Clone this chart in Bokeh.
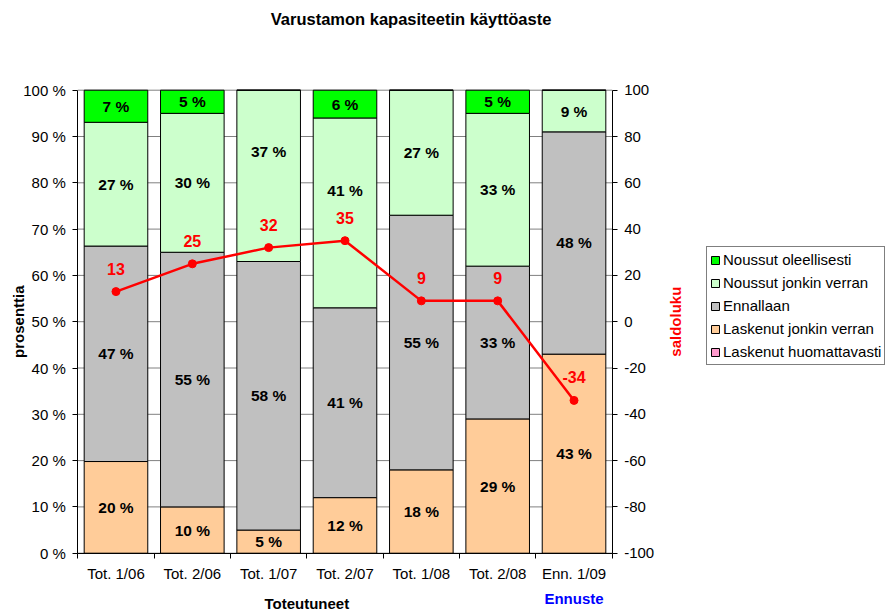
import math
from bokeh.plotting import figure
from bokeh.models import (ColumnDataSource, Range1d, LinearAxis, FixedTicker, LabelSet,
                          Label, Legend, LegendItem)
from bokeh.core.properties import value
from bokeh.embed import file_html
from bokeh.resources import INLINE

categories = ["Tot. 1/06", "Tot. 2/06", "Tot. 1/07", "Tot. 2/07", "Tot. 1/08", "Tot. 2/08", "Enn. 1/09"]
laskenut_huomattavasti = [0, 0, 0, 0, 0, 0, 0]
laskenut_jonkin_verran = [20, 10, 5, 12, 18, 29, 43]
ennallaan = [47, 55, 58, 41, 55, 33, 48]
noussut_jonkin_verran = [27, 30, 37, 41, 27, 33, 9]
noussut_oleellisesti = [7, 5, 0, 6, 0, 5, 0]
saldoluku = [13, 25, 32, 35, 9, 9, -34]

series_names = ["Laskenut huomattavasti", "Laskenut jonkin verran", "Ennallaan",
                "Noussut jonkin verran", "Noussut oleellisesti"]
series_vals = [laskenut_huomattavasti, laskenut_jonkin_verran, ennallaan,
               noussut_jonkin_verran, noussut_oleellisesti]
series_colors = ["#FF99CC", "#FFCC99", "#C0C0C0", "#CCFFCC", "#00FF00"]

left_ticks = list(range(0, 101, 10))
right_ticks = list(range(-100, 101, 20))

# labels that were moved up by hand in the original (pixels): (category index, series)
label_nudges = {(2, "Noussut jonkin verran"): 24, (3, "Noussut jonkin verran"): 22}

FONT = "Liberation Sans"
W, H = 890, 612
# plot-area placement on the canvas (pixels)
PL, PR, PT, PB = 77.3, 611.7, 89.7, 552.7
n = len(categories)
ux = (PR - PL) / n            # px per category
uy = (PB - PT) / 100.0        # px per percent
us = (PB - PT) / 200.0        # px per saldo unit

xr = Range1d(-PL / ux, (W - PL) / ux)
yr = Range1d(-(H - PB) / uy, 100 + PT / uy)

p = figure(width=W, height=H, output_backend="svg", toolbar_location=None,
           x_range=xr, y_range=yr, x_axis_location=None, y_axis_location=None,
           min_border=0, min_border_left=0, min_border_right=0,
           min_border_top=0, min_border_bottom=0)
p.outline_line_color = None
p.background_fill_color = "white"
p.border_fill_color = "white"
p.xgrid.visible = False
p.ygrid.visible = False
p.extra_y_ranges = {"saldo": Range1d(-100 - (H - PB) / us, 100 + PT / us)}

xs = [i + 0.5 for i in range(n)]
totals = [sum(s[i] for s in series_vals) for i in range(n)]

# horizontal gridlines across the plot area
p.segment(x0=[0] * len(left_ticks), x1=[n] * len(left_ticks), y0=left_ticks, y1=left_ticks,
          line_color="#808080", line_width=1)

# stacked 100% bars
renderers = []
lab_x, lab_y, lab_t, lab_dy = [], [], [], []
cum = [0.0] * n
for name, vals, col in zip(series_names, series_vals, series_colors):
    bottoms = list(cum)
    tops = [cum[i] + vals[i] * 100.0 / totals[i] for i in range(n)]
    src = ColumnDataSource(dict(x=xs, bottom=bottoms, top=tops))
    r = p.vbar(x="x", bottom="bottom", top="top", width=0.833, source=src,
               fill_color=col, line_color="black", line_width=1)
    renderers.append((name, r))
    for i in range(n):
        if vals[i] > 0:
            lab_x.append(xs[i])
            lab_y.append((bottoms[i] + tops[i]) / 2)
            lab_t.append(f"{vals[i]} %")
            lab_dy.append(label_nudges.get((i, name), 0))
    cum = tops

bar_labels = ColumnDataSource(dict(x=lab_x, y=lab_y, t=lab_t, dy=lab_dy))
p.add_layout(LabelSet(x="x", y="y", text="t", y_offset="dy", source=bar_labels,
                      text_align="center", text_baseline="middle", text_font=value(FONT),
                      text_font_size=value("15.5px"), text_font_style="bold",
                      text_color="black"))

# saldo line
ssrc = ColumnDataSource(dict(x=xs, y=saldoluku, t=[str(v) for v in saldoluku]))
p.line("x", "y", source=ssrc, y_range_name="saldo", line_color="#FF0000", line_width=2.5)
p.scatter("x", "y", source=ssrc, y_range_name="saldo", size=8, fill_color="#FF0000",
          line_color="#FF0000")
p.add_layout(LabelSet(x="x", y="y", text="t", source=ssrc, y_range_name="saldo",
                      y_offset=23, text_align="center", text_baseline="middle",
                      text_font=value(FONT), text_font_size=value("16px"),
                      text_font_style="bold", text_color="#FF0000"))

# x axis (fixed at y = 0)
xa = LinearAxis(fixed_location=0, bounds=(0, n),
                ticker=FixedTicker(ticks=xs, minor_ticks=list(range(0, n + 1))))
xa.major_label_overrides = {x: c for x, c in zip(xs, categories)}
xa.major_tick_out = 0
xa.major_tick_in = 0
xa.minor_tick_out = 5
xa.minor_tick_in = 0
xa.minor_tick_line_color = "black"
xa.axis_line_color = "black"
xa.major_label_standoff = 7
xa.major_label_text_font = FONT
xa.major_label_text_font_size = "15px"
xa.major_label_text_color = "black"
p.add_layout(xa, "below")

# left axis (fixed at x = 0)
ya = LinearAxis(fixed_location=0, bounds=(0, 100), ticker=FixedTicker(ticks=left_ticks))
ya.major_label_overrides = {t: f"{t} %" for t in left_ticks}
ya.major_tick_out = 5
ya.major_tick_in = 0
ya.minor_tick_line_color = None
ya.major_label_standoff = 7
ya.major_label_text_font = FONT
ya.major_label_text_font_size = "15px"
ya.major_label_text_color = "black"
p.add_layout(ya, "left")

# right axis (saldo, fixed at x = n)
ra = LinearAxis(y_range_name="saldo", fixed_location=n, bounds=(-100, 100),
                ticker=FixedTicker(ticks=right_ticks))
ra.major_label_overrides = {t: str(t) for t in right_ticks}
ra.major_tick_out = 5
ra.major_tick_in = 0
ra.minor_tick_line_color = None
ra.major_label_standoff = 7
ra.major_label_text_font = FONT
ra.major_label_text_font_size = "15px"
ra.major_label_text_color = "black"
p.add_layout(ra, "right")

# axis titles, chart title, group labels
p.add_layout(Label(x=(18 - PL) / ux, y=50, text="prosenttia", angle=math.pi / 2,
                   text_align="center", text_baseline="middle", text_font=FONT,
                   text_font_size="15px", text_font_style="bold", text_color="black"))
p.add_layout(Label(x=(675 - PL) / ux, y=50, text="saldoluku", angle=math.pi / 2,
                   text_align="center", text_baseline="middle", text_font=FONT,
                   text_font_size="15px", text_font_style="bold", text_color="#FF0000"))
p.add_layout(Label(x=(410.5 - PL) / ux, y=(PB - 18) / uy, text="Varustamon kapasiteetin käyttöaste",
                   text_align="center", text_baseline="middle", text_font=FONT,
                   text_font_size="16.5px", text_font_style="bold", text_color="black"))
p.add_layout(Label(x=3.0, y=(PB - 603) / uy, text="Toteutuneet", text_align="center",
                   text_baseline="middle", text_font=FONT, text_font_size="15px",
                   text_font_style="bold", text_color="black"))
p.add_layout(Label(x=6.5, y=(PB - 598) / uy, text="Ennuste", text_align="center",
                   text_baseline="middle", text_font=FONT, text_font_size="15px",
                   text_font_style="bold", text_color="#0000FF"))

# legend
items = [LegendItem(label=name, renderers=[r]) for name, r in reversed(renderers)]
legend = Legend(items=items, location=(706, H - 365), orientation="vertical",
                glyph_width=10, glyph_height=10, label_height=19, spacing=4,
                padding=3, margin=0, label_standoff=3,
                label_text_font=FONT, label_text_font_size="15px", label_text_color="black",
                border_line_color="black", border_line_width=1,
                background_fill_color="white", background_fill_alpha=1)
p.add_layout(legend, "center")

open("out.html", "w").write(file_html(p, INLINE))
